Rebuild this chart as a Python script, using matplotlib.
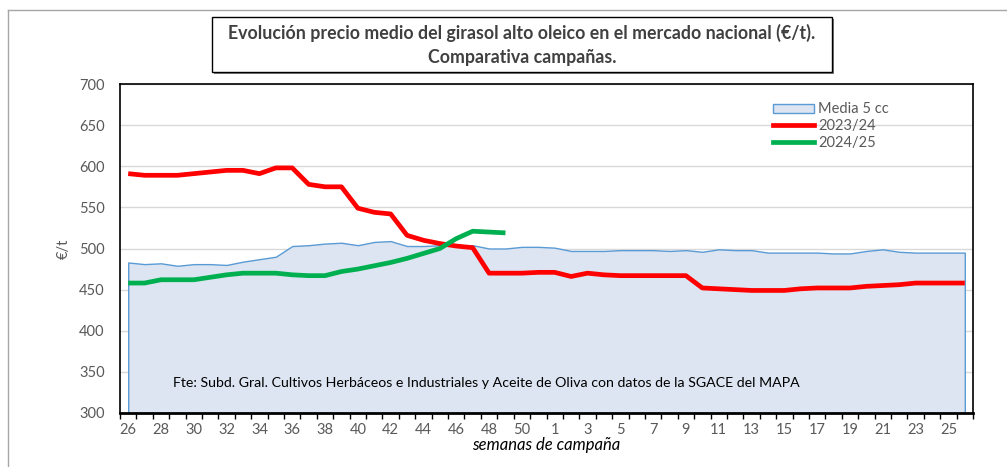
import numpy as np
import matplotlib
matplotlib.use('Agg')
import matplotlib.pyplot as plt
from matplotlib.patches import Rectangle, Patch
from matplotlib.lines import Line2D

# DATA
weeks = list(range(26, 52)) + list(range(1, 27))
media_5cc = [483, 481, 482, 479, 481, 481, 480, 484, 487, 490,
             503, 504, 506, 507, 504, 508, 509, 503, 503, 504,
             504, 504, 500, 500, 502, 502,
             501, 497, 497, 497, 498, 498, 498, 497, 498,
             496, 499, 498, 498, 495, 495, 495, 495, 494, 494,
             497, 499, 496, 495, 495, 495, 495]
camp_2324 = [591, 589, 589, 589, 591, 593, 595, 595, 591, 598,
             598, 578, 575, 575, 549, 544, 542, 516, 510, 506,
             503, 501, 470, 470, 470, 471,
             471, 466, 470, 468, 467, 467, 467, 467, 467,
             452, 451, 450, 449, 449, 449, 451, 452, 452, 452,
             454, 455, 456, 458, 458, 458, 458]
camp_2425 = [458, 458, 462, 462, 462, 465, 468, 470, 470, 470,
             468, 467, 467, 472, 475, 479, 483, 488, 494, 500,
             512, 521, 520, 519]

TITLE = ('Evolución precio medio del girasol alto oleico en el mercado nacional (€/t).\n'
         'Comparativa campañas.')
SOURCE = 'Fte: Subd. Gral. Cultivos Herbáceos e Industriales y Aceite de Oliva con datos de la SGACE del MAPA'

plt.rcParams['font.family'] = ['Lato', 'DejaVu Sans']
GREY = '#595959'

W, H = 1007, 467
fig = plt.figure(figsize=(W / 100, H / 100), dpi=100)
ax = fig.add_axes([120 / W, 1 - 413 / H, (973 - 120) / W, (413 - 84) / H])

x = np.arange(len(weeks))
green = np.full(len(weeks), np.nan)
green[:len(camp_2425)] = camp_2425

ax.fill_between(x, 300, media_5cc, facecolor='#dce5f1', edgecolor='#5b9bd5',
                linewidth=1.0, zorder=2)
ax.plot(x, camp_2324, color='#ff0000', lw=3.4, solid_capstyle='butt', zorder=3)
ax.plot(x, green, color='#00b050', lw=3.4, solid_capstyle='butt', zorder=4)

ax.set_xlim(-0.5, len(weeks) - 0.5)
ax.set_ylim(300, 700)
ax.set_yticks(np.arange(300, 701, 50))
ax.yaxis.grid(True, color='#d9d9d9', lw=1.0)
ax.set_axisbelow(True)

# ticks at category boundaries, labels every other week
ax.set_xticks(np.arange(-0.5, len(weeks), 1.0))
ax.set_xticklabels([])
ax.set_xticks(x[::2], minor=True)
ax.set_xticklabels([str(w) for w in weeks[::2]], minor=True)
ax.tick_params(axis='x', which='major', direction='out', length=4, width=1, color='black')
ax.tick_params(axis='x', which='minor', length=0, pad=7, labelsize=10.5, labelcolor=GREY)
ax.tick_params(axis='y', length=0, pad=11, labelsize=10.5, labelcolor=GREY)

for side in ['left', 'right', 'top']:
    ax.spines[side].set_linewidth(1.2)
    ax.spines[side].set_color('black')
ax.spines['bottom'].set_linewidth(2.0)
ax.spines['bottom'].set_zorder(5)

ax.set_xlabel('semanas de campaña', fontsize=12, style='italic', labelpad=0)
ax.set_ylabel('€/t', fontsize=10.5, color=GREY, labelpad=6)

ax.text(0.062, 0.078, SOURCE, transform=ax.transAxes, fontsize=10.2, color='black')

handles = [Patch(facecolor='#dce5f1', edgecolor='#5b9bd5', lw=1.0),
           Line2D([], [], color='#ff0000', lw=3.4),
           Line2D([], [], color='#00b050', lw=3.4)]
leg = ax.legend(handles, ['Media 5 cc', '2023/24', '2024/25'], loc='upper left',
                bbox_to_anchor=(766 / W, 1 - 95 / H), bbox_transform=fig.transFigure,
                frameon=False, fontsize=10.5, handlelength=2.8, handleheight=0.6,
                handletextpad=0.3, labelspacing=0.2, borderpad=0)
for t in leg.get_texts():
    t.set_color(GREY)

# title box with shadow
fig.patches.append(Rectangle((214 / W, 1 - 74 / H), 620 / W, 55 / H,
                             transform=fig.transFigure, facecolor='#7f7f7f',
                             edgecolor='none', zorder=1))
fig.patches.append(Rectangle((212 / W, 1 - 72 / H), 620 / W, 55 / H,
                             transform=fig.transFigure, facecolor='white',
                             edgecolor='black', lw=1.0, zorder=2))
fig.text(522 / W, 1 - 45 / H, TITLE, ha='center', va='center', fontsize=12.8,
         fontweight='bold', color='#404040', linespacing=1.5, zorder=3)

# outer chart frame (cropped)
fig.add_artist(Line2D([8 / W, 1], [1 - 10 / H, 1 - 10 / H], transform=fig.transFigure,
                      color='#a6a6a6', lw=1.0))
fig.add_artist(Line2D([8 / W, 8 / W], [0, 1 - 10 / H], transform=fig.transFigure,
                      color='#a6a6a6', lw=1.0))

fig.savefig('out.png', dpi=100)
